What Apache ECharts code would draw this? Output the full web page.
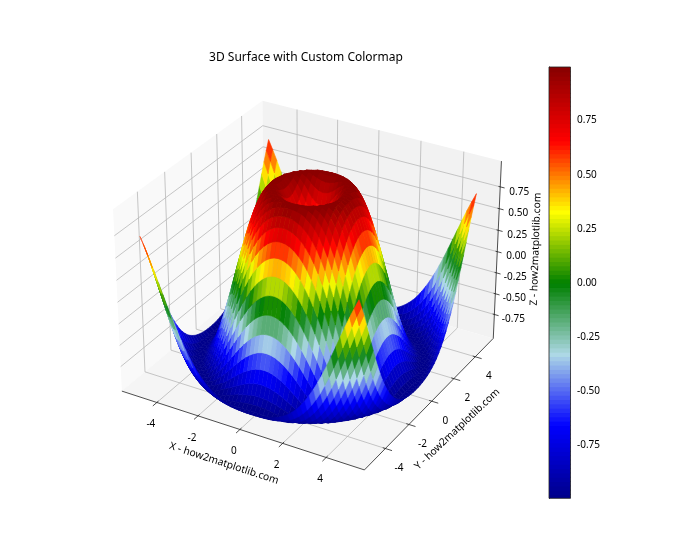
<!DOCTYPE html>
<html><head><meta charset="utf-8">
<style>html,body{margin:0;padding:0;background:#fff}#c{width:700px;height:560px}</style>
<script src="https://cdn.jsdelivr.net/npm/echarts@6/dist/echarts.min.js"></script>
</head><body><div id="c"></div>
<script>
// ---- chart values ----
const TITLE = '3D Surface with Custom Colormap';
const X_LABEL = 'X - how2matplotlib.com';
const Y_LABEL = 'Y - how2matplotlib.com';
const Z_LABEL = 'Z - how2matplotlib.com';
const X_TICKS = [-4,-2,0,2,4];
const Y_TICKS = [-4,-2,0,2,4];
const Z_TICKS = [-0.75,-0.5,-0.25,0,0.25,0.5,0.75];
const BAR_TICKS = [-0.75,-0.5,-0.25,0,0.25,0.5,0.75];
const GRID_NODES = [-5,-4.8,-4.6,-4.4,-4.2,-4,-3.8,-3.6,-3.4,-3.2,-3,-2.8,-2.6,-2.4,-2.2,-2,-1.8,-1.6,-1.4,-1.2,-1,-0.8,-0.6,-0.4,-0.2,0,0.2,0.4,0.6,0.8,1,1.2,1.4,1.6,1.8,2,2.2,2.4,2.6,2.8,3,3.2,3.4,3.6,3.8,4,4.2,4.4,4.6,4.8,5];
// surface heights; the picture is mirror-symmetric, so one triangle of the mesh is listed.
// row a, entry b = height at mesh steps (a, b) from the centre, with a >= b
const Z_ROWS = [
[0],
[.199,.279],
[.389,.432,.536],
[.565,.591,.660,.750],
[.717,.734,.780,.841,.905],
[.841,.852,.881,.919,.958,.988],
[.932,.938,.954,.974,.992,1,.992],
[.985,.988,.993,.999,.999,.989,.963,.917],
[1,.999,.997,.991,.976,.950,.909,.850,.770],
[.974,.971,.963,.947,.921,.883,.829,.759,.669,.561],
[.909,.905,.892,.869,.835,.787,.723,.645,.549,.435,.308],
[.808,.803,.787,.759,.718,.663,.594,.509,.409,.294,.167,.030],
[.675,.669,.651,.619,.574,.516,.443,.355,.254,.141,.018,-.114,-.250],
[.516,.509,.489,.456,.409,.348,.274,.187,.088,-.020,-.138,-.262,-.386,-.510],
[.335,.328,.308,.274,.228,.167,.095,.011,-.083,-.186,-.295,-.407,-.520,-.628,-.730],
[.141,.134,.114,.082,.037,-.020,-.089,-.169,-.256,-.350,-.448,-.547,-.645,-.737,-.821,-.892],
[-.058,-.064,-.083,-.114,-.156,-.210,-.273,-.344,-.423,-.506,-.591,-.676,-.757,-.831,-.896,-.947,-.983],
[-.256,-.262,-.278,-.307,-.344,-.392,-.448,-.510,-.578,-.649,-.720,-.789,-.852,-.907,-.953,-.984,-.999,-.995],
[-.443,-.448,-.462,-.487,-.520,-.560,-.607,-.660,-.716,-.773,-.828,-.881,-.926,-.963,-.989,-.999,-.995,-.971,-.929],
[-.612,-.616,-.628,-.649,-.676,-.709,-.747,-.789,-.831,-.874,-.913,-.949,-.976,-.994,-1,-.992,-.968,-.926,-.866,-.788],
[-.757,-.760,-.770,-.786,-.806,-.831,-.859,-.889,-.919,-.947,-.971,-.989,-.999,-.998,-.986,-.959,-.917,-.859,-.785,-.694,-.587],
[-.872,-.874,-.881,-.892,-.905,-.923,-.941,-.959,-.976,-.990,-.998,-.999,-.992,-.974,-.945,-.902,-.843,-.771,-.683,-.581,-.465,-.337],
[-.952,-.953,-.957,-.963,-.971,-.981,-.989,-.995,-.999,-.999,-.993,-.979,-.955,-.921,-.877,-.819,-.749,-.662,-.565,-.453,-.331,-.199,-.060],
[-.994,-.994,-.995,-.997,-.999,-1,-.999,-.995,-.988,-.974,-.954,-.926,-.889,-.841,-.782,-.711,-.628,-.534,-.428,-.311,-.186,-.054,.083,.220],
[-.996,-.996,-.995,-.992,-.988,-.982,-.972,-.959,-.940,-.916,-.883,-.843,-.794,-.736,-.664,-.584,-.495,-.390,-.279,-.161,-.035,.095,.226,.358,.484],
[-.959,-.958,-.954,-.948,-.938,-.926,-.909,-.886,-.859,-.825,-.782,-.733,-.673,-.602,-.524,-.437,-.340,-.235,-.122,-.003,.120,.245,.368,.489,.601,.707]
];
const CMAP = [[0,0,139],[0,0,255],[173,216,230],[0,128,0],[255,255,0],[255,0,0],[139,0,0]];
const CMAP_LEVELS = 100;
const V_MIN = -0.993, V_MAX = 0.997;

// ---- view ----
const FONT = '"Noto Sans", sans-serif';
const XY_LIM = 5.729, Z_LIM = 1.0417;
const HX = 0.595, HZ = 0.446, DIST = 10;
const N = [0.433,-0.75,0.5], U = [0.866,0.5,0], V = [-0.25,0.433,0.866];
const SX = 2335, SY = 2323, OX = 311, OY = 276.5;
const dot = (a,b)=>a[0]*b[0]+a[1]*b[1]+a[2]*b[2];
function view(x,y,z){ return [x/XY_LIM*HX, y/XY_LIM*HX, z/Z_LIM*HZ]; }
function proj(x,y,z){
  const p = view(x,y,z), w = DIST-dot(N,p);
  return [OX+SX*dot(U,p)/w, OY-SY*dot(V,p)/w];
}
function cmapColor(v){
  let t = (v-V_MIN)/(V_MAX-V_MIN);
  let k = Math.max(0,Math.min(CMAP_LEVELS-1,Math.floor(t*CMAP_LEVELS)));
  const s = k/(CMAP_LEVELS-1)*(CMAP.length-1), i = Math.min(CMAP.length-2,Math.floor(s)), f = s-i;
  const c = [0,1,2].map(d=>Math.round(CMAP[i][d]+(CMAP[i+1][d]-CMAP[i][d])*f));
  return `rgb(${c[0]},${c[1]},${c[2]})`;
}
const MID = (GRID_NODES.length-1)/2;
function zAt(i,j){
  const a = Math.abs(i-MID), b = Math.abs(j-MID);
  return Z_ROWS[Math.max(a,b)][Math.min(a,b)];
}

// ---- surface cells, far to near ----
const cells = [];
for(let i=0;i<GRID_NODES.length-1;i++) for(let j=0;j<GRID_NODES.length-1;j++){
  const q = [[i,j],[i+1,j],[i+1,j+1],[i,j+1]].map(a=>[GRID_NODES[a[0]],GRID_NODES[a[1]],zAt(a[0],a[1])]);
  const mean = q.reduce((s,a)=>s+a[2],0)/4;
  const depth = q.reduce((s,a)=>s+dot(N,view(a[0],a[1],a[2])),0)/4;
  cells.push({pts:q.map(a=>proj(a[0],a[1],a[2])),color:cmapColor(mean),depth});
}
cells.sort((a,b)=>a.depth-b.depth);

// ---- panes, grid lines, axis lines, ticks ----
const L = XY_LIM, ZL = Z_LIM;
const panes = [
  {pts:[[-L,-L,-ZL],[-L,L,-ZL],[-L,L,ZL],[-L,-L,ZL]],color:'#f9f9f9'},
  {pts:[[-L,L,-ZL],[L,L,-ZL],[L,L,ZL],[-L,L,ZL]],color:'#f2f2f2'},
  {pts:[[-L,-L,-ZL],[L,-L,-ZL],[L,L,-ZL],[-L,L,-ZL]],color:'#f5f5f5'}
];
const GRID_C = '#b8b8b8', AXIS_C = '#222';
const segs = [];
const seg = (a,b,color,w)=>segs.push({a:proj(...a),b:proj(...b),color,w});
X_TICKS.forEach(x=>{ seg([x,-L,-ZL],[x,L,-ZL],GRID_C,.8); seg([x,L,-ZL],[x,L,ZL],GRID_C,.8); });
Y_TICKS.forEach(y=>{ seg([-L,y,-ZL],[L,y,-ZL],GRID_C,.8); seg([-L,y,-ZL],[-L,y,ZL],GRID_C,.8); });
Z_TICKS.forEach(z=>{ seg([-L,-L,z],[-L,L,z],GRID_C,.8); seg([-L,L,z],[L,L,z],GRID_C,.8); });
seg([-L,-L,-ZL],[L,-L,-ZL],AXIS_C,.8);
seg([L,-L,-ZL],[L,L,-ZL],AXIS_C,.8);
seg([L,L,-ZL],[L,L,ZL],AXIS_C,.8);
X_TICKS.forEach(x=>seg([x,-L-.3,-ZL],[x,-L+.12,-ZL],AXIS_C,.8));
Y_TICKS.forEach(y=>seg([L+.3,y,-ZL],[L-.12,y,-ZL],AXIS_C,.8));
Z_TICKS.forEach(z=>seg([L+.2,L,z],[L-.08,L,z],AXIS_C,.8));

// ---- texts ----
const texts = [];
const txt = (p,dx,dy,s,rot,size)=>texts.push({x:p[0]+dx,y:p[1]+dy,s,rot:rot||0,size:size||10});
X_TICKS.forEach(x=>txt(proj(x,-L,-ZL),-6,22,String(x)));
Y_TICKS.forEach(y=>txt(proj(L,y,-ZL),13.6,19.8,String(y)));
Z_TICKS.forEach(z=>txt(proj(L,L,z),19,4.8,z.toFixed(2)));
txt(proj(0,-L,-ZL),-16,34,X_LABEL,-18*Math.PI/180,10.3);
txt(proj(L,0,-ZL),25.5,28,Y_LABEL,43.4*Math.PI/180,10.2);
txt(proj(L,L,0),38.5,-2.5,Z_LABEL,88*Math.PI/180,10.2);

// ---- colour bar bands ----
const bands = [];
for(let k=0;k<CMAP_LEVELS;k++){
  const lo = V_MIN+(V_MAX-V_MIN)*k/CMAP_LEVELS, hi = V_MIN+(V_MAX-V_MIN)*(k+1)/CMAP_LEVELS;
  bands.push([lo,hi,cmapColor((lo+hi)/2)]);
}

const chart = echarts.init(document.getElementById('c'),null,{renderer:'canvas',width:700,height:560});
const base = {type:'custom',coordinateSystem:'cartesian2d',xAxisIndex:0,yAxisIndex:0,clip:false,animation:false,progressive:0,silent:true,encode:{x:0,y:1}};
chart.setOption({
  animation:false,
  backgroundColor:'#fff',
  textStyle:{fontFamily:FONT},
  title:{text:TITLE,left:301,top:47,textAlign:'center',textStyle:{fontSize:12,fontWeight:'normal',color:'#000',fontFamily:FONT}},
  grid:[
    {left:0,top:0,width:700,height:560,show:false},
    {left:549,top:67,width:21.5,height:431.3,show:false}
  ],
  xAxis:[
    {type:'value',gridIndex:0,min:0,max:700,show:false},
    {type:'value',gridIndex:1,min:0,max:1,show:false}
  ],
  yAxis:[
    {type:'value',gridIndex:0,min:0,max:560,inverse:true,show:false},
    {type:'value',gridIndex:1,min:V_MIN,max:V_MAX,position:'right',
     axisLine:{show:true,lineStyle:{color:'#000',width:.8}},
     splitLine:{show:false},
     axisTick:{show:true,length:3.4,inside:false,lineStyle:{color:'#000',width:.8},customValues:BAR_TICKS},
     axisLabel:{show:true,margin:6.5,padding:[3,0,0,0],fontSize:10,color:'#000',fontFamily:FONT,customValues:BAR_TICKS,
       formatter:v=>v.toFixed(2)}}
  ],
  series:[
    Object.assign({},base,{name:'panes',z:1,data:panes.map((p,i)=>[0,0,i]),
      renderItem:(params,api)=>{
        const p = panes[params.dataIndex];
        return {type:'polygon',shape:{points:p.pts.map(a=>api.coord(proj(...a)))},style:{fill:p.color,stroke:null}};
      }}),
    Object.assign({},base,{name:'frame',z:2,data:segs.map((s,i)=>[0,0,i]),
      renderItem:(params,api)=>{
        const s = segs[params.dataIndex], a = api.coord(s.a), b = api.coord(s.b);
        return {type:'line',shape:{x1:a[0],y1:a[1],x2:b[0],y2:b[1]},style:{stroke:s.color,lineWidth:s.w,fill:null}};
      }}),
    Object.assign({},base,{name:'surface',z:3,data:cells.map((c,i)=>[0,0,i]),
      renderItem:(params,api)=>{
        const c = cells[params.dataIndex];
        return {type:'polygon',shape:{points:c.pts.map(a=>api.coord(a))},style:{fill:c.color,stroke:c.color,lineWidth:.6}};
      }}),
    Object.assign({},base,{name:'labels',z:4,data:texts.map((t,i)=>[t.x,t.y,i]),
      renderItem:(params,api)=>{
        const t = texts[params.dataIndex], a = api.coord([t.x,t.y]);
        return {type:'text',x:a[0],y:a[1],rotation:t.rot,
          style:{text:t.s,fontSize:t.size,fontFamily:FONT,fill:'#000',align:'center',verticalAlign:'middle'}};
      }}),
    {type:'custom',name:'colorbar',coordinateSystem:'cartesian2d',xAxisIndex:1,yAxisIndex:1,z:3,clip:false,animation:false,progressive:0,silent:true,
      encode:{y:0},
      data:bands.map(b=>[b[0],b[1]]),
      renderItem:(params,api)=>{
        const b = bands[params.dataIndex];
        const p0 = api.coord([0,b[0]]), p1 = api.coord([1,b[1]]);
        const drop = params.dataIndex>0 ? 1 : 0;
        return {type:'rect',shape:{x:p0[0],y:p1[1],width:p1[0]-p0[0],height:p0[1]-p1[1]+drop},style:{fill:b[2]}};
      }},
    {type:'custom',name:'colorbarFrame',coordinateSystem:'cartesian2d',xAxisIndex:1,yAxisIndex:1,z:5,clip:false,animation:false,silent:true,
      encode:{y:0},
      data:[[V_MIN]],
      renderItem:(params,api)=>{
        const p0 = api.coord([0,V_MIN]), p1 = api.coord([1,V_MAX]);
        return {type:'rect',shape:{x:p0[0],y:p1[1],width:p1[0]-p0[0],height:p0[1]-p1[1]},style:{fill:null,stroke:'#222',lineWidth:.8}};
      }}
  ]
});
</script>
</body></html>
